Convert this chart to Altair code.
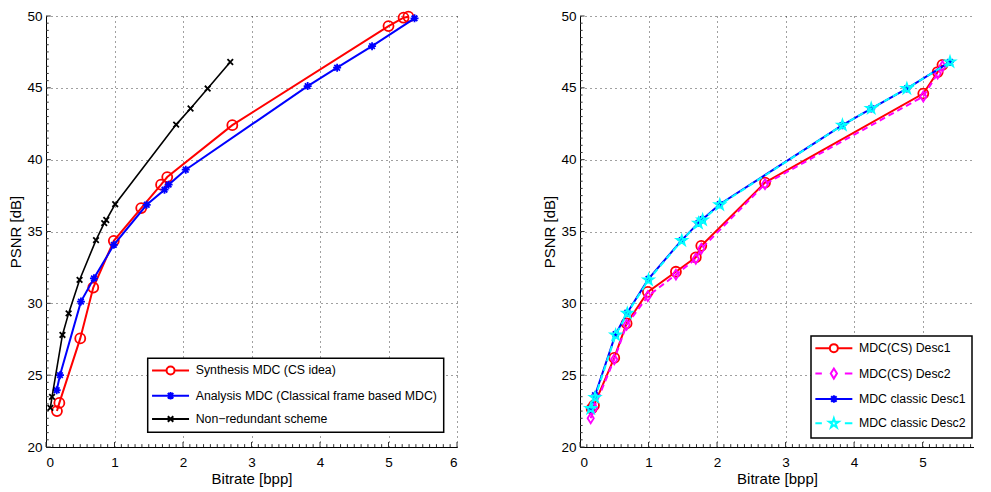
import altair as alt
import pandas as pd

# ---------------- data ----------------
# Left panel
syn_bpp = [0.16, 0.195, 0.50, 0.69, 0.99, 1.39, 1.68, 1.77, 2.72, 5.00, 5.22, 5.29]
syn_psnr = [22.5, 23.07, 27.56, 31.1, 34.35, 36.63, 38.26, 38.79, 42.4, 49.3, 49.88, 49.95]
ana_bpp = [0.156, 0.204, 0.51, 0.70, 0.99, 1.47, 1.73, 1.79, 2.04, 3.82, 4.25, 4.76, 5.38]
ana_psnr = [23.95, 25.0, 30.12, 31.74, 34.07, 36.86, 37.91, 38.26, 39.3, 45.12, 46.4, 47.9, 49.84]
nr_bpp = [0.064, 0.088, 0.24, 0.33, 0.49, 0.73, 0.85, 0.88, 1.01, 1.90, 2.11, 2.36, 2.69]
nr_psnr = [22.72, 23.49, 27.8, 29.3, 31.63, 34.4, 35.58, 35.8, 36.9, 42.44, 43.56, 44.95, 46.8]

# Right panel
cs1_bpp = [0.17, 0.204, 0.50, 0.68, 0.99, 1.40, 1.69, 1.77, 2.70, 5.01, 5.22, 5.29]
cs1_psnr = [22.67, 22.9, 26.2, 28.6, 30.8, 32.2, 33.2, 34.0, 38.4, 44.6, 46.1, 46.6]
cs2_bpp = [0.156, 0.204, 0.50, 0.68, 0.99, 1.40, 1.69, 1.77, 2.70, 5.01, 5.22, 5.29]
cs2_psnr = [22.0, 22.7, 26.1, 28.5, 30.5, 32.0, 33.1, 33.8, 38.3, 44.4, 46.0, 46.5]
cl1_bpp = [0.156, 0.219, 0.52, 0.69, 1.00, 1.485, 1.73, 1.79, 2.04, 3.83, 4.25, 4.77, 5.40]
cl1_psnr = [22.67, 23.6, 27.85, 29.35, 31.7, 34.4, 35.6, 35.85, 36.9, 42.4, 43.56, 44.95, 46.8]
cl2_bpp = [0.156, 0.219, 0.52, 0.69, 1.00, 1.485, 1.73, 1.79, 2.04, 3.83, 4.25, 4.77, 5.40]
cl2_psnr = [22.67, 23.44, 27.79, 29.3, 31.63, 34.37, 35.58, 35.8, 36.86, 42.4, 43.56, 44.95, 46.8]

left_names = ["Synthesis MDC (CS idea)", "Analysis MDC (Classical frame based MDC)", "Non\u2212redundant scheme"]
right_names = ["MDC(CS) Desc1", "MDC(CS) Desc2", "MDC classic Desc1", "MDC classic Desc2"]
left_xticks = [0, 1, 2, 3, 4, 5, 6]
right_xticks = [0, 1, 2, 3, 4, 5]
yticks = [20, 25, 30, 35, 40, 45, 50]
# minor (inward) tick positions of the MATLAB-style axes
left_xminor = [round(i * 0.1, 1) for i in range(1, 60) if i % 10]
right_xminor = [round(i * 0.1, 1) for i in range(1, 58) if i % 10]
yminor = [20 + i * 0.5 for i in range(1, 60) if i % 10]

# ---------------- styles ----------------
FONT = "Liberation Sans, Arial, sans-serif"

P_CIRCLE = "circle"
P_ASTER = "M-1,0L1,0M0,-1L0,1M-0.7,-0.7L0.7,0.7M-0.7,0.7L0.7,-0.7"
P_X = "M-0.7,-0.7L0.7,0.7M-0.7,0.7L0.7,-0.7"
P_DIAM = "M0,-1L0.62,0L0,1L-0.62,0Z"
P_STAR = ("M0,-1L0.225,-0.309L0.951,-0.309L0.363,0.118L0.588,0.809L0,0.382"
          "L-0.588,0.809L-0.363,0.118L-0.951,-0.309L-0.225,-0.309Z")

# legend symbols: line sample + marker, in units of 5 px
L_CIRCLE = "M-3.7,0L-0.8,0M0.8,0L3.7,0M-0.8,0A0.8,0.8 0 1,0 0.8,0A0.8,0.8 0 1,0 -0.8,0"
L_ASTER = ("M-3.7,0L3.7,0M0,-0.75L0,0.75M-0.55,-0.55L0.55,0.55M-0.55,0.55L0.55,-0.55")
L_X = "M-3.7,0L3.7,0M-0.55,-0.55L0.55,0.55M-0.55,0.55L0.55,-0.55"
L_DIAM = "M-3.7,0L-2.4,0M2.2,0L3.7,0M0,-1L0.62,0L0,1L-0.62,0Z"
L_STAR = ("M-3.7,0L-2.4,0M2.2,0L3.7,0"
          "M0,-1L0.225,-0.309L0.951,-0.309L0.363,0.118L0.588,0.809L0,0.382"
          "L-0.588,0.809L-0.363,0.118L-0.951,-0.309L-0.225,-0.309Z")

left_series = [
    dict(name=left_names[0], x=syn_bpp, y=syn_psnr, color="#ff0000", width=2, dash=None,
         shape=P_CIRCLE, size=100, lshape=L_CIRCLE),
    dict(name=left_names[1], x=ana_bpp, y=ana_psnr, color="#0000ff", width=2, dash=None,
         shape=P_ASTER, size=64, lshape=L_ASTER),
    dict(name=left_names[2], x=nr_bpp, y=nr_psnr, color="#000000", width=1.6, dash=None,
         shape=P_X, size=64, lshape=L_X),
]
right_series = [
    dict(name=right_names[0], x=cs1_bpp, y=cs1_psnr, color="#ff0000", width=2, dash=None,
         shape=P_CIRCLE, size=100, lshape=L_CIRCLE),
    dict(name=right_names[1], x=cs2_bpp, y=cs2_psnr, color="#ff00ff", width=2, dash=[6, 4],
         shape=P_DIAM, size=100, lshape=L_DIAM),
    dict(name=right_names[2], x=cl1_bpp, y=cl1_psnr, color="#0000ff", width=2, dash=None,
         shape=P_ASTER, size=64, lshape=L_ASTER),
    dict(name=right_names[3], x=cl2_bpp, y=cl2_psnr, color="#00ffff", width=2, dash=[6, 4],
         shape=P_STAR, size=110, lshape=L_STAR),
]


def make_panel(series, x_max, x_ticks, x_minor, width, legend_x, legend_y, row_pad):
    xenc = alt.X("bpp:Q", scale=alt.Scale(domain=[0, x_max], nice=False, zero=False),
                 axis=alt.Axis(values=x_ticks, format="d", title="Bitrate [bpp]"))
    yenc = alt.Y("psnr:Q", scale=alt.Scale(domain=[20, 50], nice=False, zero=False),
                 axis=alt.Axis(values=yticks, format="d", title="PSNR [dB]"))
    layers = []

    # inward ticks (major and minor) along the bottom and left axes
    xt = pd.DataFrame({"bpp": x_minor + x_ticks,
                       "psnr": [20] * (len(x_minor) + len(x_ticks)),
                       "top": [20.2] * len(x_minor) + [20.35] * len(x_ticks)})
    layers.append(alt.Chart(xt).mark_rule(color="#333333", strokeWidth=1).encode(
        x=xenc, y=yenc, y2=alt.Y2("top:Q")))
    yt = pd.DataFrame({"psnr": yminor + yticks,
                       "bpp": [0] * (len(yminor) + len(yticks)),
                       "right": [0.04 * x_max / 6] * len(yminor) + [0.07 * x_max / 6] * len(yticks)})
    layers.append(alt.Chart(yt).mark_rule(color="#333333", strokeWidth=1).encode(
        y=yenc, x=xenc, x2=alt.X2("right:Q")))

    frames = []
    for s in series:
        df = pd.DataFrame({"bpp": s["x"], "psnr": s["y"], "idx": list(range(len(s["x"]))),
                           "series": s["name"]})
        frames.append(df)
        base = alt.Chart(df).encode(x=xenc, y=yenc, order=alt.Order("idx:Q"))
        lkw = dict(color=s["color"], strokeWidth=s["width"])
        if s["dash"]:
            lkw["strokeDash"] = s["dash"]
        layers.append(base.mark_line(**lkw))
        layers.append(base.mark_point(shape=s["shape"], size=s["size"], filled=False,
                                      color=s["color"], strokeWidth=1.8, opacity=1))
    names = [s["name"] for s in series]
    leg = alt.Legend(title=None, orient="none", legendX=legend_x, legendY=legend_y,
                     strokeColor="black", fillColor="white", padding=6,
                     symbolStrokeWidth=2, symbolSize=100, symbolOffset=10.7,
                     labelOffset=19, rowPadding=row_pad, labelLimit=500,
                     labelFont=FONT, labelFontSize=12.3, labelColor="black")
    all_df = pd.concat(frames)
    legend_layer = alt.Chart(all_df).transform_filter("datum.bpp < -100").mark_point(
        filled=False, strokeWidth=2, opacity=1).encode(
        x=xenc, y=yenc,
        color=alt.Color("series:N", scale=alt.Scale(domain=names, range=[s["color"] for s in series]),
                        legend=leg),
        shape=alt.Shape("series:N", scale=alt.Scale(domain=names, range=[s["lshape"] for s in series]),
                        legend=leg),
    )
    layers.append(legend_layer)
    return alt.layer(*layers).properties(width=width, height=431)


left = make_panel(left_series, 6, left_xticks, left_xminor, 411, 101.7, 342.3, 8.3)
right = make_panel(right_series, 5.75, right_xticks, right_xminor, 394, 231, 320, 7.4)


def build(with_border):
    c = alt.hconcat(left, right, spacing=84).resolve_scale(
        color="independent", shape="independent"
    ).configure(
        padding=0, background="white", font=FONT
    ).configure_view(stroke=None).configure_axis(
        labelFont=FONT, labelFontSize=13.5, labelColor="black", labelPadding=4,
        titleFont=FONT, titleFontSize=15, titleFontWeight="normal", titleColor="black",
        domainColor="black", domainWidth=1, ticks=False,
        grid=True, gridColor="#000000", gridOpacity=0.75, gridDash=[1, 4], gridWidth=1,
    ).configure_axisY(titlePadding=3).configure_axisX(labelPadding=8, titlePadding=3)
    if with_border:
        c = c.configure_legend(strokeWidth=1.5)
    return c


try:
    chart = build(True)
    chart.to_dict()
except Exception:
    chart = build(False)

chart.save("out.html", embed_options={"renderer": "svg", "actions": False})
